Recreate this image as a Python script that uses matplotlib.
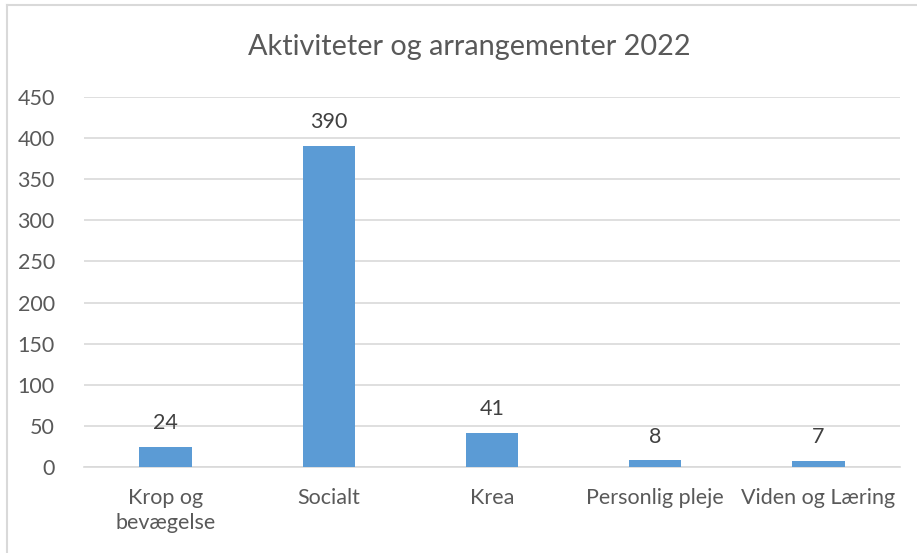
import matplotlib
matplotlib.use("Agg")
import matplotlib.pyplot as plt
from matplotlib.lines import Line2D

categories = ["Krop og\nbevægelse", "Socialt", "Krea", "Personlig pleje", "Viden og Læring"]
values = [24, 390, 41, 8, 7]
yticks = [0, 50, 100, 150, 200, 250, 300, 350, 400, 450]
title = "Aktiviteter og arrangementer 2022"

plt.rcParams['font.family'] = ['Lato', 'DejaVu Sans']
text_color = "#595959"

fig = plt.figure(figsize=(9.17, 5.53), dpi=100)
ax = fig.add_axes([84/917, 1-467/553, (900-84)/917, (467-97)/553])

x = list(range(len(categories)))
bars = ax.bar(x, values, width=0.32, color="#5B9BD5", zorder=3)
for xi, v in zip(x, values):
    ax.annotate(str(v), (xi, v), xytext=(0, 10), textcoords="offset points",
                ha="center", va="bottom", fontsize=15.5, color="#404040")

ax.set_xlim(-0.5, len(categories)-0.5)
ax.set_ylim(0, 450)
ax.set_yticks(yticks)
ax.set_xticks(x)
ax.set_xticklabels(categories, fontsize=15.5, color=text_color, va="top", linespacing=1.3)
ax.tick_params(axis="y", labelsize=15.5, colors=text_color, length=0, pad=21)
ax.tick_params(axis="x", length=0, pad=15)
ax.grid(axis="y", color="#D9D9D9", linewidth=1.2, zorder=0)
for s in ["top", "right", "left"]:
    ax.spines[s].set_visible(False)
ax.spines["bottom"].set_color("#D9D9D9")
ax.spines["bottom"].set_linewidth(1.2)

fig.text(469/917, 1-47/553, title, ha="center", va="center", fontsize=20.8, color=text_color)

# chart frame (partially cropped)
fig.add_artist(Line2D([7/917, 1], [1-5/553, 1-5/553], color="#D9D9D9", linewidth=1.5, transform=fig.transFigure))
fig.add_artist(Line2D([7/917, 7/917], [0, 1-5/553], color="#D9D9D9", linewidth=1.5, transform=fig.transFigure))

fig.savefig("out.png", dpi=100)
